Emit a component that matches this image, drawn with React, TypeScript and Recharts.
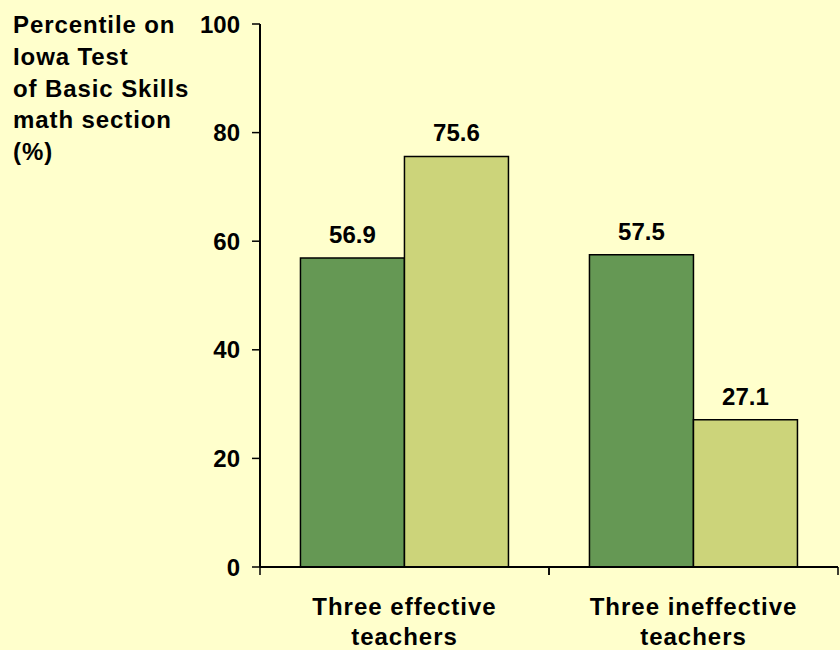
import React from "react";
import {
    BarChart,
    Bar,
    XAxis,
    YAxis,
    LabelList,
} from "recharts";

const groups = ["Three effective|teachers", "Three ineffective|teachers"];
const firstValues = [56.9, 57.5];
const secondValues = [75.6, 27.1];
const yTicks = [0, 20, 40, 60, 80, 100];
const yTitleLines = [
    "Percentile on",
    "Iowa Test",
    "of Basic Skills",
    "math section",
    "(%)",
];

const data = groups.map((g, i) => ({
    group: g,
    first: firstValues[i],
    second: secondValues[i],
}));

const FONT = "'Liberation Sans', Arial, sans-serif";

// two-line group label, plus the small ticks at both edges of the band
function GroupTick(props: any) {
    const { x, y, payload } = props;
    const half = payload.offset || 0;
    const lines = String(payload.value).split("|");
    return (
        <g transform={`translate(${x},${y})`}>
            <line x1={-half} y1={0} x2={-half} y2={8} stroke="#000" strokeWidth={1.5} />
            <line x1={half} y1={0} x2={half} y2={8} stroke="#000" strokeWidth={1.5} />
            {lines.map((line: string, i: number) => (
                <text
                    key={i}
                    x={0}
                    y={48 + i * 30}
                    textAnchor="middle"
                    fontFamily={FONT}
                    fontWeight="bold"
                    fontSize={24}
                    letterSpacing={1}
                    fill="#000"
                >
                    {line}
                </text>
            ))}
        </g>
    );
}

export default function App() {
    return (
        <div
            style={{
                position: "absolute",
                left: 0,
                top: 0,
                width: 840,
                height: 650,
                background: "#FFFFCC",
                fontFamily: FONT,
            }}
        >
            <div
                style={{
                    position: "absolute",
                    left: 13,
                    top: 9,
                    fontWeight: "bold",
                    fontSize: 24,
                    lineHeight: "31.8px",
                    letterSpacing: 0.9,
                    color: "#000",
                    whiteSpace: "nowrap",
                }}
            >
                {yTitleLines.map((l) => (
                    <div key={l}>{l}</div>
                ))}
            </div>
            <BarChart
                width={840}
                height={650}
                data={data}
                margin={{ top: 24, right: 2, bottom: 0, left: 0 }}
                barCategoryGap="14%"
                barGap={0}
            >
                <XAxis
                    dataKey="group"
                    height={83}
                    interval={0}
                    tickSize={0}
                    tickMargin={0}
                    tickLine={false}
                    axisLine={{ stroke: "#000", strokeWidth: 2 }}
                    tick={<GroupTick />}
                />
                <XAxis
                    xAxisId="top"
                    orientation="top"
                    dataKey="group"
                    height={0}
                    tick={false}
                    tickLine={false}
                    axisLine={{ stroke: "#000", strokeWidth: 2 }}
                />
                <YAxis
                    width={260}
                    domain={[0, 100]}
                    ticks={yTicks}
                    interval={0}
                    tickSize={8}
                    tickMargin={12}
                    axisLine={{ stroke: "#000", strokeWidth: 2 }}
                    tickLine={{ stroke: "#000", strokeWidth: 1.5 }}
                    tick={{
                        fill: "#000",
                        fontFamily: FONT,
                        fontWeight: "bold",
                        fontSize: 24,
                    }}
                />
                <YAxis
                    yAxisId="right"
                    orientation="right"
                    width={0}
                    domain={[0, 100]}
                    tick={false}
                    tickLine={false}
                    axisLine={{ stroke: "#000", strokeWidth: 2 }}
                />
                <Bar
                    dataKey="first"
                    fill="#659854"
                    stroke="#000"
                    strokeWidth={1.5}
                    isAnimationActive={false}
                >
                    <LabelList
                        dataKey="first"
                        position="top"
                        offset={15}
                        fill="#000"
                        fontFamily={FONT}
                        fontWeight="bold"
                        fontSize={24}
                    />
                </Bar>
                <Bar
                    dataKey="second"
                    fill="#CCD47A"
                    stroke="#000"
                    strokeWidth={1.5}
                    isAnimationActive={false}
                >
                    <LabelList
                        dataKey="second"
                        position="top"
                        offset={15}
                        fill="#000"
                        fontFamily={FONT}
                        fontWeight="bold"
                        fontSize={24}
                    />
                </Bar>
            </BarChart>
        </div>
    );
}
